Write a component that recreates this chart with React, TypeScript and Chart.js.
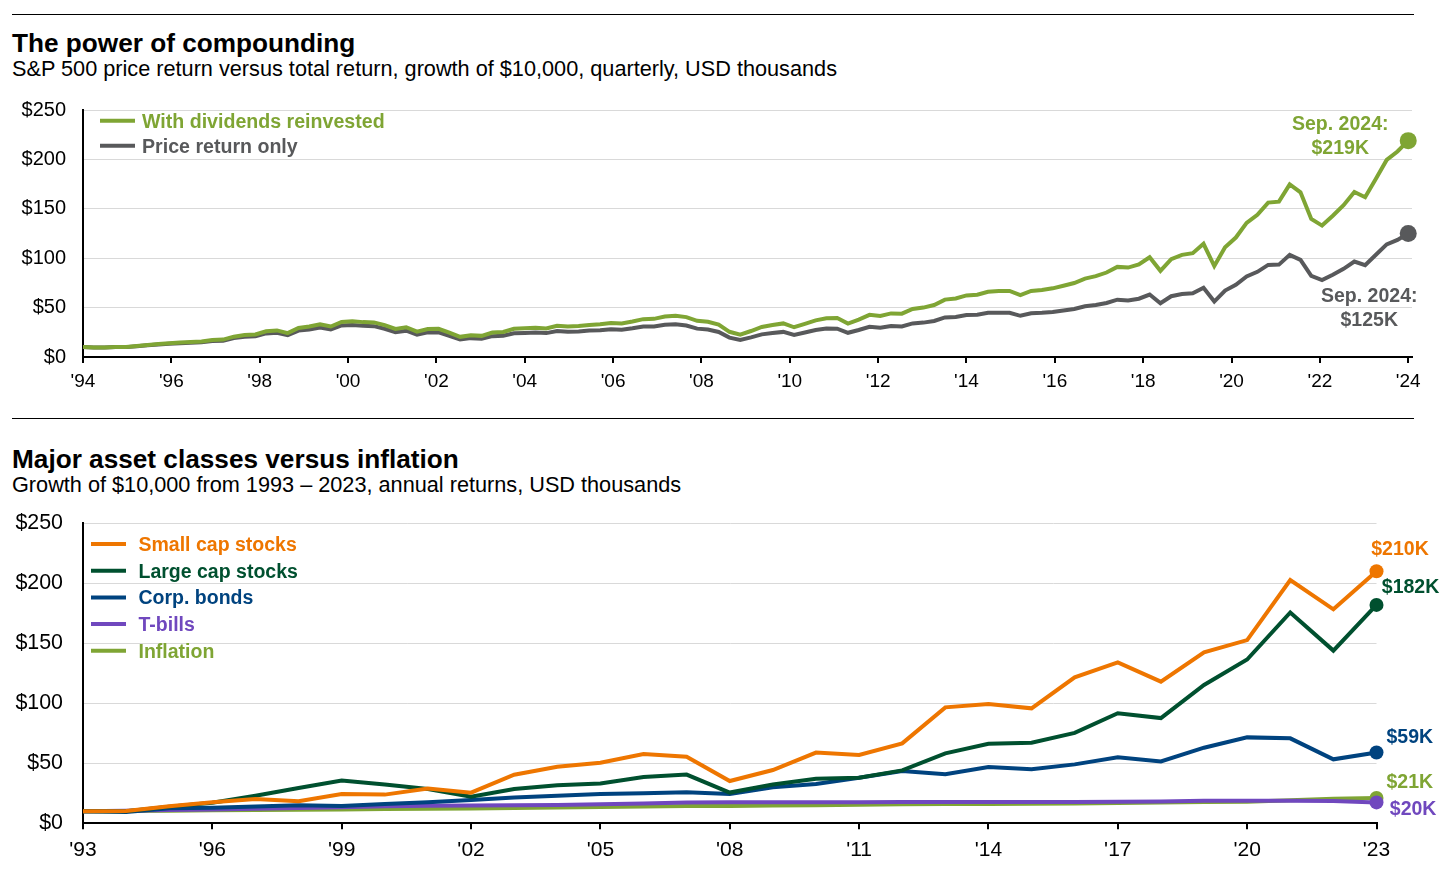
import React, { useEffect, useRef } from 'react';
import { Chart, registerables } from 'chart.js';

Chart.register(...registerables);

const FONT = '"Liberation Sans", Arial, Helvetica, sans-serif';

// ---------- Top chart: S&P 500, quarterly, Dec 1993 - Sep 2024 (USD thousands) ----------
const withDividends = [
  10.0,
  9.6, 9.7, 10.1, 10.1,
  11.1, 12.2, 13.1, 13.9,
  14.7, 15.3, 15.8, 17.1,
  17.6, 20.6, 22.2, 22.8,
  26.0, 26.9, 24.2, 29.4,
  30.8, 33.0, 30.9, 35.5,
  36.3, 35.3, 35.0, 32.3,
  28.4, 30.1, 25.7, 28.4,
  28.5, 24.7, 20.4, 22.1,
  21.4, 24.7, 25.4, 28.5,
  29.0, 29.5, 28.9, 31.6,
  30.9, 31.3, 32.4, 33.1,
  34.5, 34.0, 35.9, 38.3,
  38.6, 41.0, 41.8, 40.4,
  36.6, 35.7, 32.7, 25.5,
  22.7, 26.3, 30.4, 32.3,
  34.0, 30.1, 33.5, 37.1,
  39.3, 39.4, 33.9, 37.9,
  42.7, 41.5, 44.1, 43.9,
  48.6, 50.0, 52.6, 58.1,
  59.2, 62.3, 63.0, 66.0,
  66.7, 66.9, 62.6, 66.9,
  67.8, 69.5, 72.1, 74.9,
  79.4, 81.8, 85.5, 91.2,
  90.5, 93.6, 100.9, 87.2,
  99.1, 103.4, 105.1, 114.6,
  92.1, 111.0, 120.9, 135.7,
  144.0, 156.3, 157.2, 174.6,
  166.7, 139.8, 133.0, 143.0,
  153.7, 167.1, 161.7, 180.5,
  199.5, 208.0, 219.0,
];

const priceReturn = [
  10.0,
  9.7, 9.6, 10.0, 10.0,
  10.9, 11.8, 12.7, 13.4,
  14.0, 14.5, 14.9, 16.1,
  16.4, 19.2, 20.6, 21.1,
  23.9, 24.6, 22.1, 26.7,
  27.9, 29.8, 27.8, 31.9,
  32.5, 31.6, 31.2, 28.6,
  25.2, 26.6, 22.6, 24.9,
  24.9, 21.5, 17.7, 19.1,
  18.4, 21.1, 21.6, 24.1,
  24.4, 24.8, 24.2, 26.3,
  25.6, 25.8, 26.7, 27.1,
  28.1, 27.6, 29.0, 30.8,
  30.8, 32.6, 33.1, 31.9,
  28.7, 27.8, 25.3, 19.6,
  17.3, 19.9, 22.9, 24.2,
  25.4, 22.4, 24.8, 27.3,
  28.8, 28.7, 24.5, 27.3,
  30.6, 29.6, 31.3, 30.9,
  34.0, 34.8, 36.5, 40.1,
  40.6, 42.5, 42.8, 44.7,
  44.9, 44.8, 41.7, 44.3,
  44.7, 45.5, 47.0, 48.6,
  51.3, 52.6, 54.7, 58.0,
  57.3, 59.0, 63.2, 54.4,
  61.5, 63.8, 64.6, 70.1,
  56.1, 67.3, 73.0, 81.5,
  86.2, 93.2, 93.5, 103.4,
  98.3, 82.1, 77.8, 83.3,
  89.2, 96.6, 93.0, 103.5,
  114.0, 118.5, 125.0,
];

const quarterLabels: string[] = ['Dec 1993'];
for (let y = 1994; y <= 2024; y++) {
  for (const m of ['Mar', 'Jun', 'Sep', 'Dec']) {
    if (y === 2024 && m === 'Dec') break;
    quarterLabels.push(`${m} ${y}`);
  }
}

const topTickLabels = ["'94", "'96", "'98", "'00", "'02", "'04", "'06", "'08", "'10", "'12", "'14", "'16", "'18", "'20", "'22", "'24"];
const topYTicks = [0, 50, 100, 150, 200, 250];

// ---------- Bottom chart: annual, 1993 - 2023 (USD thousands) ----------
const years = [1993, 1994, 1995, 1996, 1997, 1998, 1999, 2000, 2001, 2002, 2003, 2004, 2005, 2006, 2007, 2008,
  2009, 2010, 2011, 2012, 2013, 2014, 2015, 2016, 2017, 2018, 2019, 2020, 2021, 2022, 2023];

const smallCap = [10, 10.2, 14.2, 17.5, 20.2, 18.3, 24.4, 23.9, 28.9, 25.5, 40.5, 47.2, 50.5, 57.7, 55.5, 35.2,
  44.4, 58.9, 56.9, 66.6, 96.6, 99.4, 95.8, 121.6, 134.1, 118.0, 142.5, 152.7, 202.7, 178.3, 210];
const largeCap = [10, 10.1, 13.9, 17.1, 22.9, 29.4, 35.6, 32.3, 28.5, 22.2, 28.6, 31.7, 33.2, 38.5, 40.6, 25.6,
  32.3, 37.2, 38.0, 44.1, 58.3, 66.3, 67.2, 75.3, 91.7, 87.7, 115.3, 136.5, 175.7, 143.9, 182];
const corpBonds = [10, 9.4, 12.5, 13.0, 14.0, 15.0, 14.5, 16.0, 17.5, 19.5, 21.5, 23.0, 24.4, 25.0, 25.8, 24.4,
  30.0, 32.7, 38.0, 43.6, 40.8, 46.9, 45.0, 49.1, 55.0, 51.6, 63.0, 71.6, 70.8, 53.3, 59];
const tBills = [10, 10.4, 11.0, 11.6, 12.2, 12.8, 13.4, 14.2, 14.7, 14.9, 15.1, 15.3, 15.8, 16.6, 17.3, 17.6,
  17.6, 17.6, 17.6, 17.7, 17.7, 17.7, 17.7, 17.7, 17.9, 18.2, 18.7, 18.8, 18.8, 18.6, 17.4];
const inflation = [10, 10.3, 10.5, 10.9, 11.1, 11.2, 11.5, 11.9, 12.1, 12.4, 12.7, 13.1, 13.5, 13.9, 14.4, 14.4,
  14.8, 15.0, 15.5, 15.8, 16.0, 16.1, 16.2, 16.6, 16.9, 17.3, 17.7, 17.9, 19.2, 20.4, 21.1];

const bottomTickLabels = ["'93", "'96", "'99", "'02", "'05", "'08", "'11", "'14", "'17", "'20", "'23"];
const bottomYTicks = [0, 50, 100, 150, 200, 250];

// ---------- Styles ----------
const C_GREEN = '#7fa534';
const C_GRAY = '#58595b';
const C_ORANGE = '#ee7600';
const C_DKGREEN = '#00502f';
const C_BLUE = '#00437f';
const C_PURPLE = '#7048be';

type EndLabel = { lines: string[]; dx: number; dy: number; lh: number; align: CanvasTextAlign; color: string };
type LegendItem = { text: string; color: string };

function makePlugins(
  offsetY: number,
  legend: { items: LegendItem[]; x0: number; len: number; y0: number; dy: number; textX: number; baseOff: number; font: number },
  labels: (EndLabel | null)[],
  labelFont: number,
) {
  return [
    {
      id: 'customLegend',
      afterDraw(chart: any) {
        const ctx = chart.ctx as CanvasRenderingContext2D;
        ctx.save();
        legend.items.forEach((it, i) => {
          const cy = legend.y0 + i * legend.dy - offsetY;
          ctx.strokeStyle = it.color;
          ctx.lineWidth = 4;
          ctx.lineCap = 'butt';
          ctx.beginPath();
          ctx.moveTo(legend.x0, cy);
          ctx.lineTo(legend.x0 + legend.len, cy);
          ctx.stroke();
          ctx.font = `bold ${legend.font}px ${FONT}`;
          ctx.fillStyle = it.color;
          ctx.textAlign = 'left';
          ctx.textBaseline = 'alphabetic';
          ctx.fillText(it.text, legend.textX, cy + legend.baseOff);
        });
        ctx.restore();
      },
    },
    {
      id: 'endLabels',
      afterDatasetsDraw(chart: any) {
        const ctx = chart.ctx as CanvasRenderingContext2D;
        ctx.save();
        ctx.font = `bold ${labelFont}px ${FONT}`;
        ctx.textBaseline = 'alphabetic';
        labels.forEach((lab, i) => {
          if (!lab) return;
          const meta = chart.getDatasetMeta(i);
          const pt = meta.data[meta.data.length - 1];
          if (!pt) return;
          ctx.fillStyle = lab.color;
          ctx.textAlign = lab.align;
          lab.lines.forEach((ln, k) => {
            ctx.fillText(ln, pt.x + lab.dx, pt.y + lab.dy + k * lab.lh);
          });
        });
        ctx.restore();
      },
    },
  ];
}

function lastPointRadius(r: number) {
  return (ctx: any) => (ctx.dataIndex === ctx.dataset.data.length - 1 ? r : 0);
}

function fixYAxis(width: number) {
  return (scale: any) => {
    scale.width = width;
    scale.paddingTop = 0;
    scale.paddingBottom = 0;
  };
}

const TOP_OFFSET = 90;
const TOP_H = 305;
const BOT_OFFSET = 500;
const BOT_H = 370;

export default function App() {
  const topRef = useRef<HTMLCanvasElement | null>(null);
  const botRef = useRef<HTMLCanvasElement | null>(null);

  useEffect(() => {
    const N = withDividends.length;
    const topMax = N - 1 + 0.35;

    const top = new Chart(topRef.current as HTMLCanvasElement, {
      type: 'line',
      data: {
        labels: quarterLabels,
        datasets: [
          {
            label: 'With dividends reinvested',
            data: withDividends.map((v, i) => ({ x: i, y: v })),
            borderColor: C_GREEN,
            backgroundColor: C_GREEN,
            borderWidth: 4,
            pointRadius: lastPointRadius(8.5),
            pointHoverRadius: lastPointRadius(8.5),
            pointBorderWidth: 0,
            tension: 0,
            clip: false,
          },
          {
            label: 'Price return only',
            data: priceReturn.map((v, i) => ({ x: i, y: v })),
            borderColor: C_GRAY,
            backgroundColor: C_GRAY,
            borderWidth: 4,
            pointRadius: lastPointRadius(8.5),
            pointHoverRadius: lastPointRadius(8.5),
            pointBorderWidth: 0,
            tension: 0,
            clip: false,
          },
        ],
      },
      options: {
        responsive: false,
        animation: false,
        layout: { autoPadding: false, padding: { left: 0, right: 1444 - 1412, top: 110 - TOP_OFFSET, bottom: 0 } },
        plugins: { legend: { display: false }, tooltip: { enabled: false }, title: { display: false } },
        scales: {
          x: {
            type: 'linear',
            min: 0,
            max: topMax,
            afterBuildTicks: (scale: any) => {
              scale.ticks = topTickLabels.map((_, k) => ({ value: (k * (N - 1)) / (topTickLabels.length - 1) }));
            },
            afterFit: (scale: any) => {
              scale.height = TOP_OFFSET + TOP_H - 357;
            },
            ticks: {
              autoSkip: false,
              maxRotation: 0,
              padding: 7,
              color: '#000',
              font: { family: FONT, size: 19 },
              callback: (_v: any, i: number) => topTickLabels[i],
            },
            grid: { drawOnChartArea: false, drawTicks: true, tickLength: 6, color: '#000', lineWidth: 2 },
            border: { display: true, color: '#000', width: 2 },
          },
          y: {
            min: 0,
            max: 250,
            afterBuildTicks: (scale: any) => {
              scale.ticks = topYTicks.map((v) => ({ value: v }));
            },
            afterFit: fixYAxis(83),
            ticks: {
              padding: 17,
              color: '#000',
              font: { family: FONT, size: 20 },
              callback: (v: any) => '$' + v,
            },
            grid: { color: '#d9d9d9', lineWidth: 1, drawTicks: false },
            border: { display: true, color: '#000', width: 2 },
          },
        },
      },
      plugins: makePlugins(
        TOP_OFFSET,
        {
          items: [
            { text: 'With dividends reinvested', color: C_GREEN },
            { text: 'Price return only', color: C_GRAY },
          ],
          x0: 100,
          len: 35,
          y0: 120.8,
          dy: 25,
          textX: 142,
          baseOff: 6.8,
          font: 19.6,
        },
        [
          { lines: ['Sep. 2024:', '$219K'], dx: -68, dy: -10.6, lh: 23.5, align: 'center', color: C_GREEN },
          { lines: ['Sep. 2024:', '$125K'], dx: -39, dy: 68.8, lh: 23.7, align: 'center', color: C_GRAY },
        ],
        19.5,
      ) as any,
    } as any);

    const mk = (label: string, arr: number[], color: string) => ({
      label,
      data: arr.map((v, i) => ({ x: years[i], y: v })),
      borderColor: color,
      backgroundColor: color,
      borderWidth: 4,
      pointRadius: lastPointRadius(7),
      pointHoverRadius: lastPointRadius(7),
      pointBorderWidth: 0,
      tension: 0,
      clip: false,
    });

    const bot = new Chart(botRef.current as HTMLCanvasElement, {
      type: 'line',
      data: {
        datasets: [
          mk('Small cap stocks', smallCap, C_ORANGE),
          mk('Large cap stocks', largeCap, C_DKGREEN),
          mk('Corp. bonds', corpBonds, C_BLUE),
          mk('T-bills', tBills, C_PURPLE),
          mk('Inflation', inflation, C_GREEN),
        ],
      },
      options: {
        responsive: false,
        animation: false,
        layout: { autoPadding: false, padding: { left: 0, right: 1444 - 1376.5, top: 523.3 - BOT_OFFSET, bottom: 0 } },
        plugins: { legend: { display: false }, tooltip: { enabled: false }, title: { display: false } },
        scales: {
          x: {
            type: 'linear',
            min: years[0],
            max: years[years.length - 1],
            afterBuildTicks: (scale: any) => {
              scale.ticks = bottomTickLabels.map((_, k) => ({ value: years[k * 3] }));
            },
            afterFit: (scale: any) => {
              scale.height = BOT_OFFSET + BOT_H - 823.3;
            },
            ticks: {
              autoSkip: false,
              maxRotation: 0,
              padding: 8,
              color: '#000',
              font: { family: FONT, size: 21 },
              callback: (_v: any, i: number) => bottomTickLabels[i],
            },
            grid: { drawOnChartArea: false, drawTicks: true, tickLength: 6, color: '#000', lineWidth: 2 },
            border: { display: true, color: '#000', width: 2 },
          },
          y: {
            min: 0,
            max: 250,
            afterBuildTicks: (scale: any) => {
              scale.ticks = bottomYTicks.map((v) => ({ value: v }));
            },
            afterFit: fixYAxis(83),
            ticks: {
              padding: 20,
              color: '#000',
              font: { family: FONT, size: 21.4 },
              callback: (v: any) => '$' + v,
            },
            grid: { color: '#d9d9d9', lineWidth: 1, drawTicks: false },
            border: { display: true, color: '#000', width: 2 },
          },
        },
      },
      plugins: makePlugins(
        BOT_OFFSET,
        {
          items: [
            { text: 'Small cap stocks', color: C_ORANGE },
            { text: 'Large cap stocks', color: C_DKGREEN },
            { text: 'Corp. bonds', color: C_BLUE },
            { text: 'T-bills', color: C_PURPLE },
            { text: 'Inflation', color: C_GREEN },
          ],
          x0: 91,
          len: 35,
          y0: 544,
          dy: 26.7,
          textX: 138.5,
          baseOff: 7,
          font: 19.5,
        },
        [
          { lines: ['$210K'], dx: 23.5, dy: -16.3, lh: 0, align: 'center', color: C_ORANGE },
          { lines: ['$182K'], dx: 5.3, dy: -11.6, lh: 0, align: 'left', color: C_DKGREEN },
          { lines: ['$59K'], dx: 10, dy: -9.8, lh: 0, align: 'left', color: C_BLUE },
          { lines: ['$20K'], dx: 13.3, dy: 13, lh: 0, align: 'left', color: C_PURPLE },
          { lines: ['$21K'], dx: 10, dy: -10.4, lh: 0, align: 'left', color: C_GREEN },
        ],
        19.5,
      ) as any,
    } as any);

    return () => {
      top.destroy();
      bot.destroy();
    };
  }, []);

  const sep = (y: number): React.CSSProperties => ({
    position: 'absolute',
    left: 12,
    top: y,
    width: 1402,
    height: 1,
    background: '#000',
  });
  const txt = (top: number, size: number, bold: boolean): React.CSSProperties => ({
    position: 'absolute',
    left: 12,
    top,
    fontSize: size,
    lineHeight: `${size}px`,
    fontWeight: bold ? 700 : 400,
    color: '#000',
    whiteSpace: 'nowrap',
    fontFamily: FONT,
  });

  return (
    <div style={{ position: 'absolute', left: 0, top: 0, width: 1444, height: 870, background: '#fff', overflow: 'hidden', fontFamily: FONT }}>
      <div style={sep(14)} />
      <div style={txt(30.3, 26.2, true)}>The power of compounding</div>
      <div style={txt(57.6, 21.7, false)}>S&amp;P 500 price return versus total return, growth of $10,000, quarterly, USD thousands</div>
      <canvas ref={topRef} width={1444} height={TOP_H} style={{ position: 'absolute', left: 0, top: TOP_OFFSET, width: 1444, height: TOP_H }} />
      <div style={sep(418)} />
      <div style={txt(445.6, 26.2, true)}>Major asset classes versus inflation</div>
      <div style={txt(474.3, 21.7, false)}>Growth of $10,000 from 1993 – 2023, annual returns, USD thousands</div>
      <canvas ref={botRef} width={1444} height={BOT_H} style={{ position: 'absolute', left: 0, top: BOT_OFFSET, width: 1444, height: BOT_H }} />
    </div>
  );
}
